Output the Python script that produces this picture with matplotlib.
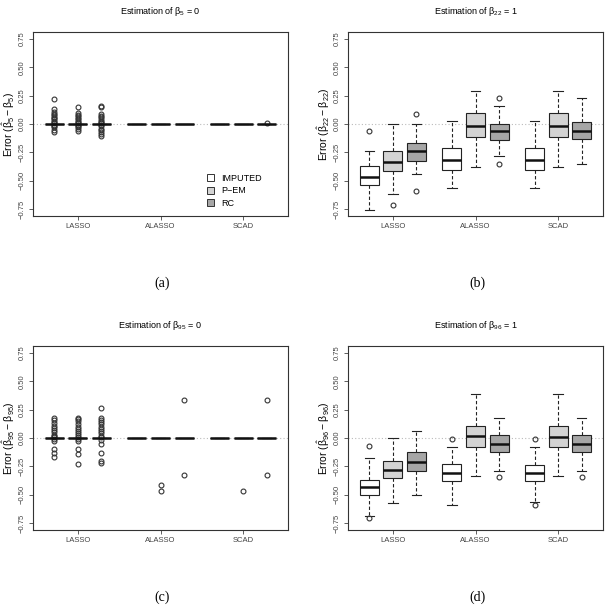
import numpy as np
import matplotlib
matplotlib.use("Agg")
import matplotlib.pyplot as plt
from matplotlib.patches import Patch

plt.rcParams['font.family'] = ['Liberation Sans', 'DejaVu Sans']
plt.rcParams['mathtext.default'] = 'regular'

# box order: LASSO (IMPUTED, P-EM, RC), ALASSO (...), SCAD (...)
methods = ["LASSO", "ALASSO", "SCAD"]
series = ["IMPUTED", "P\u2212EM", "RC"]
fills = ["white", "#d3d3d3", "#a6a6a6"]

# panel (a): beta_5 = 0, all boxes collapsed at zero
a_med = [0.0] * 9
a_q1 = [0.0] * 9
a_q3 = [0.0] * 9
a_lo = [0.0] * 9
a_hi = [0.0] * 9
a_fliers = [
    [0.22, 0.13, 0.11, 0.09, 0.08, 0.06, 0.05, 0.04, 0.03, 0.02, 0.01, -0.01, -0.02, -0.03, -0.05, -0.07],
    [0.15, 0.10, 0.08, 0.07, 0.05, 0.04, 0.03, 0.02, 0.01, -0.01, -0.02, -0.03, -0.04, -0.06],
    [0.16, 0.15, 0.09, 0.07, 0.06, 0.04, 0.03, 0.02, 0.01, -0.01, -0.02, -0.04, -0.05, -0.07, -0.09, -0.105],
    [], [], [], [], [], [0.005],
]

# panel (b): beta_22 = 1
b_hi = [-0.24, 0.0, 0.0, 0.024, 0.29, 0.157, 0.024, 0.29, 0.228]
b_q3 = [-0.368, -0.24, -0.163, -0.213, 0.095, 0.0, -0.21, 0.095, 0.015]
b_med = [-0.471, -0.332, -0.237, -0.317, -0.015, -0.059, -0.317, -0.018, -0.059]
b_q1 = [-0.54, -0.415, -0.329, -0.406, -0.116, -0.139, -0.406, -0.116, -0.133]
b_lo = [-0.753, -0.62, -0.442, -0.566, -0.376, -0.285, -0.566, -0.376, -0.353]
b_fliers = [[-0.065], [-0.709], [0.089, -0.59], [], [], [0.228, -0.356], [], [], []]

# panel (c): beta_95 = 0
c_med = [0.0] * 9
c_q1 = [0.0] * 9
c_q3 = [0.0] * 9
c_lo = [0.0] * 9
c_hi = [0.0] * 9
c_fliers = [
    [0.18, 0.16, 0.13, 0.11, 0.09, 0.07, 0.05, 0.03, 0.02, 0.01, -0.01, -0.03, -0.10, -0.13, -0.163],
    [0.18, 0.17, 0.15, 0.12, 0.10, 0.08, 0.06, 0.04, 0.03, 0.01, -0.01, -0.03, -0.10, -0.14, -0.228],
    [0.26, 0.18, 0.16, 0.14, 0.12, 0.10, 0.08, 0.06, 0.04, 0.02, 0.01, -0.02, -0.05, -0.135, -0.20, -0.22],
    [], [-0.415, -0.471], [0.335, -0.326],
    [], [-0.471], [0.335, -0.326],
]

# panel (d): beta_96 = 1
d_hi = [-0.172, 0.0, 0.065, -0.08, 0.385, 0.178, -0.08, 0.385, 0.178]
d_q3 = [-0.368, -0.199, -0.119, -0.231, 0.11, 0.024, -0.234, 0.11, 0.024]
d_med = [-0.433, -0.279, -0.21, -0.308, 0.015, -0.056, -0.305, 0.012, -0.056]
d_q1 = [-0.498, -0.356, -0.294, -0.382, -0.077, -0.119, -0.377, -0.077, -0.119]
d_lo = [-0.69, -0.569, -0.504, -0.59, -0.335, -0.288, -0.563, -0.335, -0.288]
d_fliers = [[-0.068, -0.705], [], [], [-0.006], [], [-0.347], [-0.006, -0.593], [], [-0.347]]

positions = [1, 2, 3, 4.5, 5.5, 6.5, 8, 9, 10]
group_ticks = [2, 5.5, 9]
yticks = [-0.75, -0.5, -0.25, 0.0, 0.25, 0.5, 0.75]


def dessiner(ax, med, q1, q3, lo, hi, fliers, idx, titre, ylab):
    stats = []
    for i in range(9):
        stats.append({'med': med[i], 'q1': q1[i], 'q3': q3[i],
                      'whislo': lo[i], 'whishi': hi[i], 'fliers': fliers[i]})
    ax.axhline(0, color='#bbbbbb', lw=0.8, ls=(0, (1, 2)), zorder=0)
    bp = ax.bxp(stats, positions=positions, widths=0.8, capwidths=0.4,
                patch_artist=True, showfliers=True,
                boxprops=dict(edgecolor='#222222', linewidth=0.8),
                whiskerprops=dict(color='#222222', linewidth=0.8, linestyle=(0, (3, 2))),
                capprops=dict(color='#222222', linewidth=0.8),
                medianprops=dict(color='#111111', linewidth=1.8, solid_capstyle='butt'),
                flierprops=dict(marker='o', markersize=3.5, markerfacecolor='none',
                                markeredgecolor='#333333', markeredgewidth=0.8))
    for i, box in enumerate(bp['boxes']):
        box.set_facecolor(fills[i % 3])
    ax.set_xlim(0.1, 10.9)
    ax.set_ylim(-0.81, 0.81)
    ax.set_xticks(group_ticks)
    ax.set_xticklabels(methods, fontsize=5.5)
    ax.set_yticks(yticks)
    ax.set_yticklabels([f"{v:.2f}".replace("-", "\u2212") for v in yticks],
                       fontsize=5.5, rotation=90, va='center')
    ax.tick_params(length=3, width=0.6, colors='#444444', pad=2)
    for s in ax.spines.values():
        s.set_linewidth(0.8)
        s.set_color('#333333')
    ax.set_title(titre, fontsize=6.5, pad=13)
    ax.set_ylabel(ylab, fontsize=7.5)
    ax.yaxis.set_label_coords(-0.062, 0.5)
    pos = ax.get_position()
    ax.figure.text(pos.x0 + pos.width / 2 + 0.003, pos.y0 - 0.11, idx,
                   ha='center', va='center', fontsize=10,
                   family=['Liberation Serif', 'DejaVu Serif'])


fig = plt.figure(figsize=(6.07, 6.11), dpi=100)
W, H = 607, 611
ax_a = fig.add_axes([33 / W, (H - 216) / H, 255 / W, 184 / H])
ax_b = fig.add_axes([348 / W, (H - 216) / H, 255 / W, 184 / H])
ax_c = fig.add_axes([33 / W, (H - 530) / H, 255 / W, 184 / H])
ax_d = fig.add_axes([348 / W, (H - 530) / H, 255 / W, 184 / H])

dessiner(ax_a, a_med, a_q1, a_q3, a_lo, a_hi, a_fliers, "(a)",
         r"Estimation of $\beta_5$ = 0", r"Error ($\hat{\beta}_5 - \beta_5$)")
dessiner(ax_b, b_med, b_q1, b_q3, b_lo, b_hi, b_fliers, "(b)",
         r"Estimation of $\beta_{22}$ = 1", r"Error ($\hat{\beta}_{22} - \beta_{22}$)")
dessiner(ax_c, c_med, c_q1, c_q3, c_lo, c_hi, c_fliers, "(c)",
         r"Estimation of $\beta_{95}$ = 0", r"Error ($\hat{\beta}_{95} - \beta_{95}$)")
dessiner(ax_d, d_med, d_q1, d_q3, d_lo, d_hi, d_fliers, "(d)",
         r"Estimation of $\beta_{96}$ = 1", r"Error ($\hat{\beta}_{96} - \beta_{96}$)")

handles = [Patch(facecolor=f, edgecolor='#333333', linewidth=0.7) for f in fills]
ax_a.legend(handles, series, loc='lower right', bbox_to_anchor=(0.93, 0.0),
            frameon=False, fontsize=6.5, handlelength=0.8, handleheight=0.8,
            handletextpad=0.8, labelspacing=0.4)

fig.savefig("out.png", dpi=100)
